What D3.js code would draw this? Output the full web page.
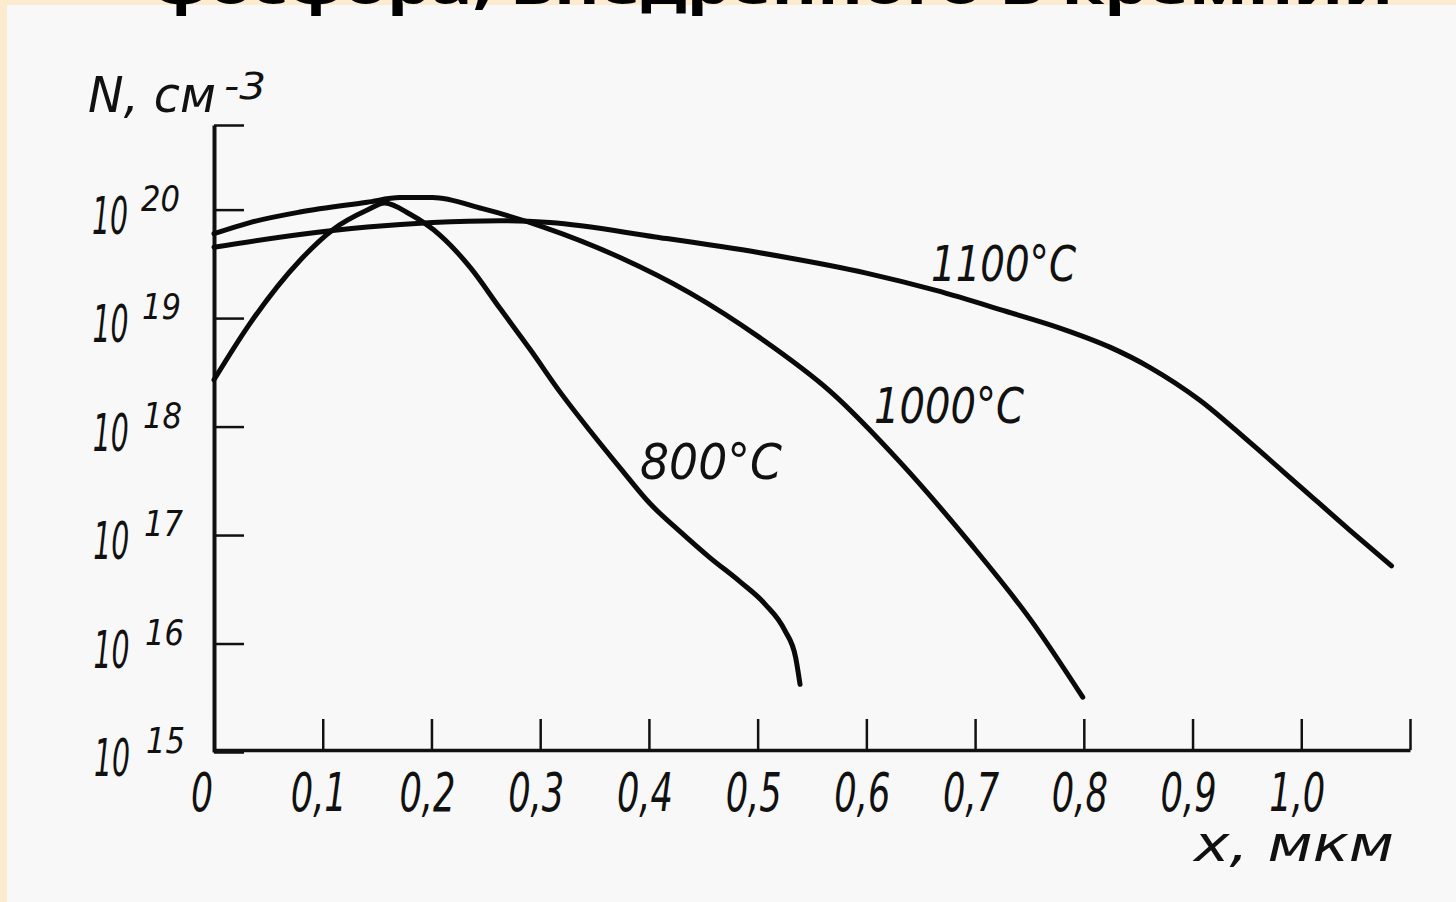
<!DOCTYPE html>
<html>
<head>
<meta charset="utf-8">
<script src="https://cdn.jsdelivr.net/npm/d3@7"></script>
<style>
  html, body { margin: 0; padding: 0; background: #f8f8f8; }
  svg { display: block; }
  .lbl { font-family: "Liberation Sans Narrow", "DejaVu Sans Condensed", "Liberation Sans", sans-serif; font-style: italic; fill: #111; }
</style>
</head>
<body>
<svg id="chart" width="1456" height="902"></svg>
<script>
// ---- data ----
const xTickValues = [0, 0.1, 0.2, 0.3, 0.4, 0.5, 0.6, 0.7, 0.8, 0.9, 1.0];
const xTickLabels = ["0", "0,1", "0,2", "0,3", "0,4", "0,5", "0,6", "0,7", "0,8", "0,9", "1,0"];
const yTickValues = [1e15, 1e16, 1e17, 1e18, 1e19, 1e20];
const yTickExponents = ["15", "16", "17", "18", "19", "20"];

const seriesNames = ["800°C", "1000°C", "1100°C"];

const depth800 = [0, 0.033, 0.079, 0.109, 0.141, 0.157, 0.180, 0.208, 0.236, 0.263, 0.291, 0.318, 0.346, 0.374, 0.401, 0.429, 0.456, 0.484, 0.507, 0.525, 0.535, 0.539];
const conc800  = [2.7e18, 8.9e18, 3.4e19, 6.5e19, 9.9e19, 1.15e20, 9.1e19, 5.8e19, 2.9e19, 1.23e19, 5.1e18, 2.1e18, 9.1e17, 4.1e17, 1.95e17, 1.07e17, 6.2e16, 3.7e16, 2.3e16, 1.32e16, 7.4e15, 4.2e15];

const depth1000 = [0, 0.033, 0.079, 0.141, 0.171, 0.201, 0.247, 0.303, 0.374, 0.438, 0.502, 0.567, 0.631, 0.695, 0.751, 0.799];
const conc1000  = [6.0e19, 7.6e19, 9.5e19, 1.17e20, 1.29e20, 1.29e20, 1.02e20, 6.9e19, 3.6e19, 1.7e19, 6.6e18, 2.1e18, 4.7e17, 8.5e16, 1.66e16, 3.2e15];

const depth1100 = [0, 0.079, 0.141, 0.201, 0.263, 0.309, 0.406, 0.502, 0.600, 0.664, 0.729, 0.778, 0.824, 0.861, 0.907, 0.953, 0.999, 1.045, 1.083];
const conc1100  = [4.5e19, 5.9e19, 6.9e19, 7.6e19, 7.9e19, 7.6e19, 5.6e19, 4.0e19, 2.6e19, 1.8e19, 1.15e19, 8.1e18, 5.4e18, 3.5e18, 1.74e18, 7.1e17, 2.8e17, 1.1e17, 5.2e16];

const titleText = "фосфора, внедренного в кремний";
const yAxisTitle = "N, см";
const yAxisTitleExp = "-3";
const xAxisTitle = "x,  мкм";

// ---- drawing ----
const svg = d3.select("#chart");

svg.append("rect").attr("x", 0).attr("y", 0).attr("width", 1456).attr("height", 902).attr("fill", "#f8f8f8");
svg.append("rect").attr("x", 0).attr("y", 0).attr("width", 1456).attr("height", 5).attr("fill", "#fcebcf");
svg.append("rect").attr("x", 0).attr("y", 0).attr("width", 7).attr("height", 902).attr("fill", "#fcebcf");

// cut-off title line (only the bottom of it is visible)
svg.append("text")
  .attr("x", 153).attr("y", 4)
  .attr("textLength", 1240).attr("lengthAdjust", "spacingAndGlyphs")
  .attr("font-family", "Open Sans, Noto Sans, sans-serif")
  .attr("font-weight", "bold").attr("font-size", 48)
  .attr("fill", "#000")
  .text(titleText);

const x = d3.scaleLinear().domain([0, 1.1]).range([214, 1410]);
const y = d3.scaleLog().domain([1e15, Math.pow(10, 20.78)]).range([752, 125]);

// y axis
const yAxis = d3.axisLeft(y)
  .tickValues(yTickValues.concat([y.domain()[1]]))
  .tickSizeInner(-30).tickSizeOuter(0).tickFormat("");
const gy = svg.append("g").attr("transform", "translate(214,0)").call(yAxis);
gy.select(".domain").attr("stroke", "#111").attr("stroke-width", 4);
gy.selectAll(".tick line").attr("stroke", "#111").attr("stroke-width", 2.5);

// x axis
const xAxis = d3.axisBottom(x)
  .tickValues(xTickValues.concat([1.1]))
  .tickSizeInner(-31).tickSizeOuter(0).tickFormat("");
const gx = svg.append("g").attr("transform", "translate(0,750)").call(xAxis);
gx.select(".domain").attr("stroke", "#111").attr("stroke-width", 3.5);
gx.selectAll(".tick line").attr("stroke", "#111").attr("stroke-width", 2.5);

// y tick labels 10^n
yTickValues.forEach((v, i) => {
  const yy = y(v);
  svg.append("text").attr("class", "lbl")
    .attr("x", 92 - (5 - i) * 0.2 + (5 - i) * 0.6).attr("y", yy + 24)
    .attr("font-size", 52)
    .attr("textLength", 36).attr("lengthAdjust", "spacingAndGlyphs")
    .text("10");
  svg.append("text").attr("class", "lbl")
    .attr("x", 141 + (5 - i) * 1.0).attr("y", yy + 1)
    .attr("font-size", 35)
    .attr("textLength", 39).attr("lengthAdjust", "spacingAndGlyphs")
    .text(yTickExponents[i]);
});

// x tick labels
xTickValues.forEach((v, i) => {
  const lab = xTickLabels[i];
  const w = lab.length === 1 ? 22 : 56;
  svg.append("text").attr("class", "lbl")
    .attr("x", x(v) - (i === 0 ? 12 : 4)).attr("y", 811)
    .attr("text-anchor", "middle")
    .attr("font-size", 54)
    .attr("textLength", w).attr("lengthAdjust", "spacingAndGlyphs")
    .text(lab);
});

// axis titles
svg.append("text").attr("class", "lbl")
  .attr("x", 88).attr("y", 112).attr("font-size", 50)
  .attr("textLength", 128).attr("lengthAdjust", "spacingAndGlyphs")
  .text(yAxisTitle);
svg.append("text").attr("class", "lbl")
  .attr("x", 224).attr("y", 99).attr("font-size", 38)
  .attr("textLength", 42).attr("lengthAdjust", "spacingAndGlyphs")
  .text(yAxisTitleExp);
svg.append("text").attr("class", "lbl")
  .attr("x", 1194).attr("y", 861).attr("font-size", 50)
  .attr("textLength", 200).attr("lengthAdjust", "spacingAndGlyphs")
  .text(xAxisTitle);

// curves
const series = [
  { name: seriesNames[0], xs: depth800, ys: conc800 },
  { name: seriesNames[1], xs: depth1000, ys: conc1000 },
  { name: seriesNames[2], xs: depth1100, ys: conc1100 }
];
const line = d3.line()
  .x(d => x(d[0])).y(d => y(d[1]))
  .curve(d3.curveMonotoneX);
series.forEach(s => {
  const pts = s.xs.map((d, i) => [d, s.ys[i]]);
  svg.append("path")
    .attr("d", line(pts))
    .attr("fill", "none").attr("stroke", "#0a0a0a")
    .attr("stroke-width", 5).attr("stroke-linecap", "round").attr("stroke-linejoin", "round");
});

// curve labels
const curveLabels = [
  { t: seriesNames[0], x: 640, y: 479, w: 142 },
  { t: seriesNames[1], x: 874, y: 423, w: 150 },
  { t: seriesNames[2], x: 931, y: 281, w: 145 }
];
curveLabels.forEach(c => {
  svg.append("text").attr("class", "lbl")
    .attr("x", c.x).attr("y", c.y).attr("font-size", 50)
    .attr("textLength", c.w).attr("lengthAdjust", "spacingAndGlyphs")
    .text(c.t);
});
</script>
</body>
</html>
